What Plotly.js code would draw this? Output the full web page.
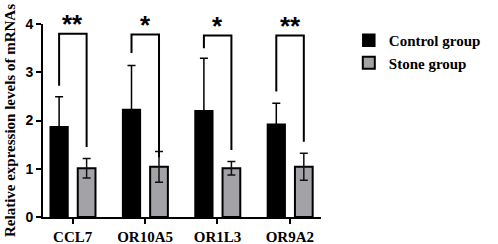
<!DOCTYPE html>
<html>
<head>
<meta charset="utf-8">
<script src="https://cdn.plot.ly/plotly-3.0.1.min.js"></script>
<style>html,body{margin:0;padding:0;background:#fff;}#chart{width:498px;height:244px;}</style>
</head>
<body>
<div id="chart"></div>
<script>
var categories = ["CCL7", "OR10A5", "OR1L3", "OR9A2"];
var controlMean = [1.87, 2.23, 2.20, 1.92];
var controlErr  = [0.62, 0.91, 1.09, 0.44];
var stoneMean   = [1.01, 1.04, 1.01, 1.04];
var stoneErr    = [0.20, 0.32, 0.14, 0.28];
var significance = ["**", "*", "*", "**"];
var bracketTop = [3.80, 3.78, 3.76, 3.76];
var bracketLeftEnd = [2.72, 3.40, 3.50, 2.60];
var bracketRightEnd = [1.45, 1.24, 1.39, 1.56];

var idx = categories.map(function(_, i){ return i; });
var barW = 0.245;
var offC = -0.31, offS = 0.07;

var traces = [
  {type:'bar', name:'Control group', x: idx, y: controlMean, width: barW, offset: offC,
   marker:{color:'#000000', line:{color:'#000', width:1.5}},
   error_y:{type:'data', array: controlErr, visible:true, color:'#000', thickness:1.5, width:4}},
  {type:'bar', name:'Stone group', x: idx, y: stoneMean, width: barW, offset: offS,
   marker:{color:'#a3a3a7', line:{color:'#000', width:2}},
   error_y:{type:'data', array: stoneErr, visible:true, color:'#111', thickness:1.5, width:4}}
];

idx.forEach(function(i){
  var xl = i + offC + barW/2, xr = i + offS + barW/2;
  traces.push({type:'scatter', mode:'lines', showlegend:false, hoverinfo:'skip', cliponaxis:false,
    x:[xl, xl, xr, xr], y:[bracketLeftEnd[i], bracketTop[i], bracketTop[i], bracketRightEnd[i]],
    line:{color:'#000', width:2}});
});

var annotations = idx.map(function(i){
  return {x: i + (offC + offS + barW)/2, y: bracketTop[i], xref:'x', yref:'y', text: significance[i],
    showarrow:false, yanchor:'bottom', yshift:-7, font:{family:'Liberation Sans, Arial', size:26, color:'#000', weight:'bold'}};
});

var layout = {
  width:498, height:244,
  margin:{l:43, r:171, t:24, b:27},
  paper_bgcolor:'#fff', plot_bgcolor:'#fff',
  barmode:'overlay',
  showlegend:true,
  legend:{x:1.1, y:1.0, xanchor:'left', yanchor:'top', font:{family:'Liberation Serif, Times New Roman', size:15, color:'#000', weight:'bold'}, tracegroupgap:4, itemwidth:30},
  xaxis:{range:[-0.41, 3.43], tickvals: idx, ticktext: categories, showgrid:false, zeroline:false,
    showline:true, linecolor:'#000', linewidth:2, ticks:'outside', ticklen:5, tickwidth:2, tickcolor:'#000',
    tickfont:{family:'Liberation Serif, Times New Roman', size:15, color:'#000', weight:'bold'}},
  yaxis:{range:[0,4], dtick:1, showgrid:false, zeroline:false, showline:true, linecolor:'#000', linewidth:2,
    ticks:'outside', ticklen:5, tickwidth:2, tickcolor:'#000',
    tickfont:{family:'Liberation Sans, Arial', size:14, color:'#000', weight:'bold'},
    title:{text:'Relative expression levels of mRNAs', standoff:6, font:{family:'Liberation Serif, Times New Roman', size:15, color:'#000', weight:'bold'}}},
  annotations: annotations
};

Plotly.newPlot('chart', traces, layout, {staticPlot:true, displayModeBar:false});
</script>
</body>
</html>
